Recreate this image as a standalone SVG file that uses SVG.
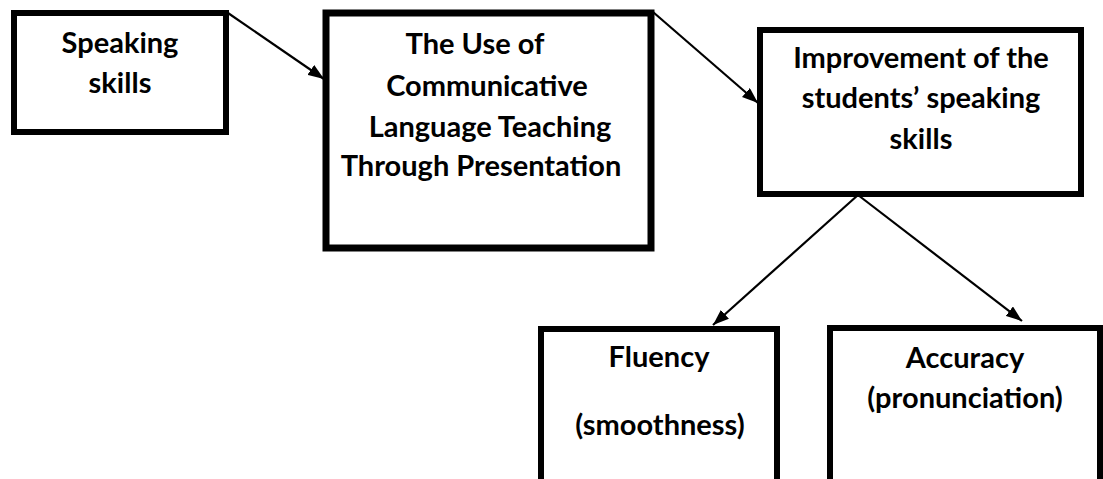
<svg xmlns="http://www.w3.org/2000/svg" width="1103" height="479" viewBox="0 0 1103 479">
<style>
.box{fill:#fff;stroke:#000;stroke-width:6}
.t{font-family:Lato,"Liberation Sans",sans-serif;font-weight:bold;font-size:29px;fill:#000;text-anchor:middle}
.c{stroke:#000;stroke-width:2.2;fill:none}
</style>
<defs>
<marker id="ah" markerUnits="userSpaceOnUse" viewBox="0 0 16 12" refX="16" refY="6" markerWidth="16" markerHeight="12" orient="auto">
<path d="M0,0 L16,6 L0,12 z" fill="#000"/>
</marker>
</defs>
<rect width="1103" height="479" fill="#fff"/>
<g id="n1">
<rect class="box" x="14" y="13" width="212" height="119"/>
<text class="t" x="120" y="53">Speaking</text>
<text class="t" x="120" y="93">skills</text>
</g>
<g id="n2">
<rect class="box" x="326" y="13" width="325" height="235" style="stroke-width:7"/>
<text class="t" x="475" y="54">The Use of</text>
<text class="t" x="487" y="96">Communicative</text>
<text class="t" x="490" y="137">Language Teaching</text>
<text class="t" x="481" y="176">Through Presentation</text>
</g>
<g id="n3">
<rect class="box" x="760" y="30" width="321" height="164"/>
<text class="t" x="921" y="68">Improvement of the</text>
<text class="t" x="921" y="108">students’ speaking</text>
<text class="t" x="921" y="149">skills</text>
</g>
<g id="n4">
<rect class="box" x="541" y="329" width="236" height="160"/>
<text class="t" x="659" y="367">Fluency</text>
<text class="t" x="660" y="435">(smoothness)</text>
</g>
<g id="n5">
<rect class="box" x="830" y="328" width="270" height="160"/>
<text class="t" x="965" y="368">Accuracy</text>
<text class="t" x="965" y="408">(pronunciation)</text>
</g>
<g id="connectors">
<line class="c" x1="228" y1="13" x2="324" y2="79" marker-end="url(#ah)"/>
<line class="c" x1="653" y1="12" x2="758" y2="103" marker-end="url(#ah)"/>
<line class="c" x1="858" y1="195" x2="713" y2="325" marker-end="url(#ah)"/>
<line class="c" x1="858" y1="195" x2="1022" y2="321" marker-end="url(#ah)"/>
</g>
</svg>
